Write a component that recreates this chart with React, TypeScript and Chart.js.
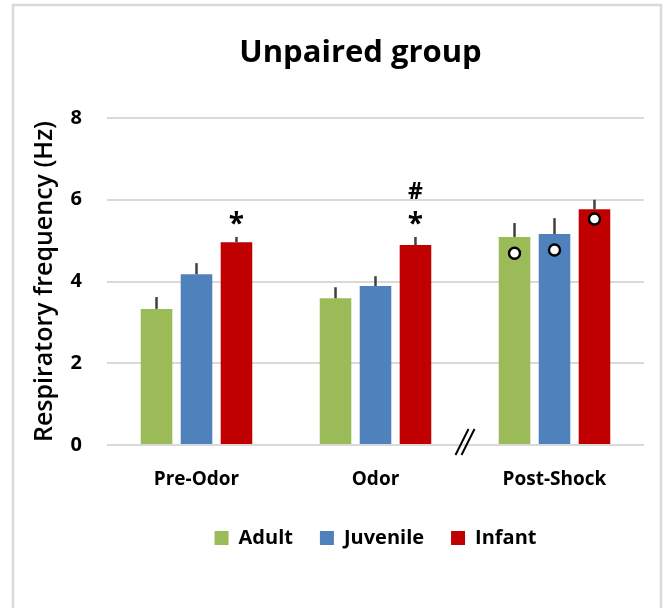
import { useEffect, useRef } from 'react';
import { Chart, registerables } from 'chart.js';

Chart.register(...registerables);

// ---- data ----
const categories = ['Pre-Odor', 'Odor', 'Post-Shock'];
const seriesNames = ['Adult', 'Juvenile', 'Infant'];
const adultValues = [3.33, 3.59, 5.09];
const juvenileValues = [4.18, 3.89, 5.16];
const infantValues = [4.96, 4.89, 5.77];
const adultErrors = [0.29, 0.27, 0.34];
const juvenileErrors = [0.27, 0.24, 0.39];
const infantErrors = [0.13, 0.2, 0.23];
const adultCircles = [null, null, 4.69];
const juvenileCircles = [null, null, 4.77];
const infantCircles = [null, null, 5.53];
const adultMarks: string[][] = [[], [], []];
const juvenileMarks: string[][] = [[], [], []];
const infantMarks: string[][] = [['*'], ['*', '#'], []];
const yTickValues = [0, 2, 4, 6, 8];
const titleText = 'Unpaired group';
const yAxisTitle = 'Respiratory frequency (Hz)';

// ---- styles ----
const colors = ['#9BBB59', '#4F81BD', '#C00000'];
const FONT = "'Open Sans', 'DejaVu Sans', sans-serif";

const values = [adultValues, juvenileValues, infantValues];
const errors = [adultErrors, juvenileErrors, infantErrors];
const circles = [adultCircles, juvenileCircles, infantCircles];
const marks = [adultMarks, juvenileMarks, infantMarks];

const overlayPlugin = {
  id: 'overlay',
  beforeDraw(chart: any) {
    const ctx = chart.ctx;
    ctx.save();
    ctx.fillStyle = '#ffffff';
    ctx.fillRect(0, 0, chart.width, chart.height);
    ctx.strokeStyle = '#d9d9d9';
    ctx.lineWidth = 2.5;
    ctx.strokeRect(13, 5, 648, 700);
    ctx.restore();
  },
  afterDatasetsDraw(chart: any) {
    const ctx = chart.ctx;
    const yScale = chart.scales.y;
    const xScale = chart.scales.x;
    ctx.save();
    // error bars
    values.forEach((vals, di) => {
      const meta = chart.getDatasetMeta(di);
      meta.data.forEach((bar: any, i: number) => {
        const topPx = yScale.getPixelForValue(vals[i] + errors[di][i]);
        ctx.beginPath();
        ctx.strokeStyle = '#404040';
        ctx.lineWidth = 2.5;
        ctx.moveTo(bar.x, bar.y);
        ctx.lineTo(bar.x, topPx);
        ctx.stroke();
        // significance marks
        const m = marks[di][i];
        let py = topPx - 15;
        m.forEach((sym) => {
          ctx.fillStyle = '#000';
          ctx.textAlign = 'center';
          ctx.textBaseline = 'middle';
          if (sym === '*') {
            ctx.font = `bold 28px ${FONT}`;
            ctx.fillText(sym, bar.x, py + 3);
          } else {
            ctx.font = `bold 23px ${FONT}`;
            ctx.fillText(sym, bar.x, py);
          }
          py -= 29;
        });
      });
    });
    // circles
    circles.forEach((cv, di) => {
      const meta = chart.getDatasetMeta(di);
      meta.data.forEach((bar: any, i: number) => {
        const v = cv[i];
        if (v === null || v === undefined) return;
        const py = yScale.getPixelForValue(v);
        ctx.beginPath();
        ctx.arc(bar.x, py, 5.5, 0, Math.PI * 2);
        ctx.fillStyle = '#ffffff';
        ctx.fill();
        ctx.lineWidth = 2.4;
        ctx.strokeStyle = '#000000';
        ctx.stroke();
      });
    });
    // axis break mark between categories 2 and 3
    const bx = (xScale.getPixelForValue(1) + xScale.getPixelForValue(2)) / 2;
    const by = yScale.getPixelForValue(0);
    ctx.strokeStyle = '#000';
    ctx.lineWidth = 2;
    [-3, 3].forEach((dx) => {
      ctx.beginPath();
      ctx.moveTo(bx + dx - 6.5, by + 10);
      ctx.lineTo(bx + dx + 6.5, by - 16);
      ctx.stroke();
    });
    // title
    const ca = chart.chartArea;
    ctx.fillStyle = '#000';
    ctx.font = `bold 31px ${FONT}`;
    ctx.textAlign = 'center';
    ctx.textBaseline = 'alphabetic';
    ctx.fillText(titleText, (ca.left + ca.right) / 2 - 15, 62);
    ctx.restore();
  },
};

export default function App() {
  const ref = useRef<HTMLCanvasElement | null>(null);
  useEffect(() => {
    document.body.style.margin = '0';
    Chart.defaults.font.family = FONT;
    const chart = new Chart(ref.current as HTMLCanvasElement, {
      type: 'bar',
      data: {
        labels: categories,
        datasets: seriesNames.map((name, i) => ({
          label: name,
          data: values[i],
          backgroundColor: colors[i],
          borderWidth: 0,
          categoryPercentage: 0.67,
          barPercentage: 0.79,
        })),
      },
      options: {
        animation: false,
        responsive: false,
        layout: { padding: { left: 20, right: 23, top: 118, bottom: 50 } },
        plugins: {
          title: { display: false },
          tooltip: { enabled: false },
          legend: {
            display: true,
            position: 'bottom',
            fullSize: false,
            labels: {
              boxWidth: 14,
              boxHeight: 14,
              padding: 27,
              color: '#000',
              font: { size: 20, weight: 'bold', family: FONT },
            },
          },
        },
        scales: {
          x: {
            grid: { display: false },
            border: { display: false },
            ticks: {
              color: '#000',
              padding: 15,
              font: { size: 19, weight: 'bold', family: FONT },
            },
            afterFit(scale: any) {
              scale.height = 56;
            },
          },
          y: {
            min: 0,
            max: 8,
            afterBuildTicks(scale: any) {
              scale.ticks = yTickValues.map((v) => ({ value: v }));
            },
            grid: { color: '#d9d9d9', lineWidth: 2, drawTicks: false },
            border: { display: false },
            ticks: {
              color: '#000',
              padding: 25,
              font: { size: 20, weight: 'bold', family: FONT },
            },
            title: {
              display: true,
              text: yAxisTitle,
              color: '#000',
              padding: { top: 10, bottom: 0 },
              font: { size: 25, weight: '600', family: FONT },
            },
            afterFit(scale: any) {
              scale.width = 87;
            },
          },
        },
      },
      plugins: [overlayPlugin],
    });
    return () => chart.destroy();
  }, []);
  return (
    <div style={{ width: 667, height: 608, overflow: 'hidden' }}>
      <canvas ref={ref} width={667} height={608} style={{ display: 'block' }} />
    </div>
  );
}
